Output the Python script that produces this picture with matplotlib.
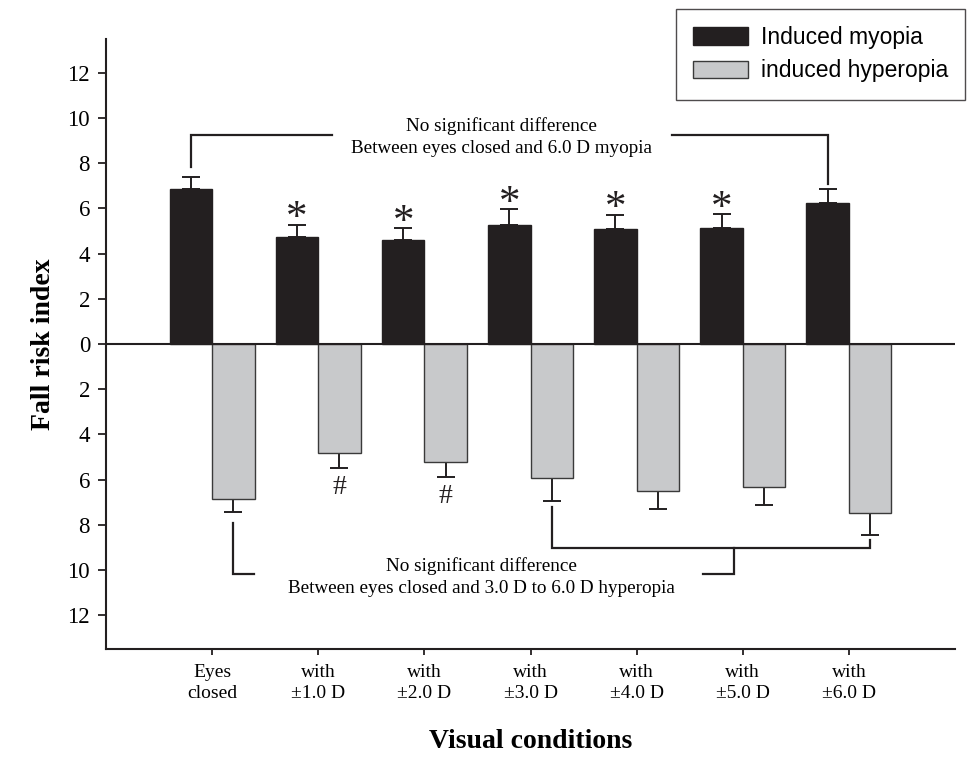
import matplotlib
matplotlib.use("Agg")
import matplotlib.pyplot as plt
from matplotlib.patches import Patch
import numpy as np

# values
conditions = ["Eyes\nclosed", "with\n±1.0 D", "with\n±2.0 D", "with\n±3.0 D",
              "with\n±4.0 D", "with\n±5.0 D", "with\n±6.0 D"]
myopia = [6.87, 4.72, 4.60, 5.27, 5.10, 5.15, 6.25]
myopia_err = [0.53, 0.56, 0.53, 0.70, 0.62, 0.59, 0.62]
hyperopia = [6.87, 4.84, 5.22, 5.91, 6.50, 6.34, 7.49]
hyperopia_err = [0.56, 0.66, 0.65, 1.05, 0.80, 0.77, 0.96]
star_idx = [1, 2, 3, 4, 5]      # myopia differs from eyes closed
hash_idx = [1, 2]               # hyperopia differs from eyes closed

BLACK = "#231f20"
GRAY = "#c8c9cb"
W = 0.4

plt.rcParams["font.family"] = ["Liberation Serif", "DejaVu Serif"]

fig = plt.figure(figsize=(9.71, 7.59), dpi=100)
ax = fig.add_axes([0.1092, 0.1449, 0.8743, 0.8037])

x = np.arange(len(conditions))
my = np.array(myopia)
hy = -np.array(hyperopia)
zeros = np.zeros(len(x))

ax.bar(x - W / 2, my, width=W, color=BLACK, edgecolor=BLACK, linewidth=1, zorder=2)
ax.bar(x + W / 2, hy, width=W, color=GRAY, edgecolor="#3a3a3a", linewidth=1, zorder=2)
ax.errorbar(x - W / 2, my, yerr=[zeros, myopia_err], fmt="none", ecolor=BLACK,
            elinewidth=1.4, capsize=6.3, capthick=1.4, zorder=1)
ax.errorbar(x + W / 2, hy, yerr=[hyperopia_err, zeros], fmt="none", ecolor=BLACK,
            elinewidth=1.4, capsize=6.3, capthick=1.4, zorder=1)
ax.axhline(0, color=BLACK, lw=1.5, zorder=3)

for i in star_idx:
    ax.text(x[i] - W / 2, my[i] + myopia_err[i] - 0.2, "*", ha="center",
            va="baseline", fontsize=31, color=BLACK)
for i in hash_idx:
    ax.text(x[i] + W / 2, hy[i] - hyperopia_err[i] - 1.15, "#", ha="center",
            va="baseline", fontsize=20, color=BLACK)

# brackets
lk = dict(color=BLACK, lw=1.6, solid_joinstyle="miter")
ax.plot([x[0] - W / 2, x[0] - W / 2, 1.13], [7.82, 9.25, 9.25], **lk)
ax.plot([4.33, x[6] - W / 2, x[6] - W / 2], [9.25, 9.25, 7.1], **lk)
ax.text(2.73, 9.65, "No significant difference", ha="center", va="center", fontsize=13.8)
ax.text(2.73, 8.67, "Between eyes closed and 6.0 D myopia", ha="center", va="center", fontsize=13.8)

ax.plot([x[0] + W / 2, x[0] + W / 2, 0.39], [-7.93, -10.19, -10.19], **lk)
ax.plot([x[3] + W / 2, x[3] + W / 2, x[6] + W / 2, x[6] + W / 2],
        [-7.23, -9.01, -9.01, -8.67], **lk)
ax.plot([4.915, 4.915, 4.625], [-9.01, -10.19, -10.19], **lk)
ax.text(2.54, -9.82, "No significant difference", ha="center", va="center", fontsize=13.8)
ax.text(2.54, -10.8, "Between eyes closed and 3.0 D to 6.0 D hyperopia",
        ha="center", va="center", fontsize=13.8)

ax.set_xlim(-1.0, 7.0)
ax.set_ylim(-13.5, 13.5)
yt = np.arange(-12, 13, 2)
ax.set_yticks(yt)
ax.set_yticklabels([str(abs(v)) for v in yt], fontsize=16.5)
ax.set_xticks(x)
ax.set_xticklabels(conditions, fontsize=14, linespacing=1.25)
ax.tick_params(axis="y", length=5.5, width=1.3, pad=6, color=BLACK)
ax.tick_params(axis="x", length=4, width=1.3, pad=7, color=BLACK)

for s in ["top", "right"]:
    ax.spines[s].set_visible(False)
for s in ["left", "bottom"]:
    ax.spines[s].set_linewidth(1.5)
    ax.spines[s].set_color(BLACK)

ax.set_ylabel("Fall risk index", fontsize=20, fontweight="bold", labelpad=8)
ax.set_xlabel("Visual conditions", fontsize=20, fontweight="bold", labelpad=20)

handles = [Patch(facecolor=BLACK, edgecolor=BLACK, label="Induced myopia"),
           Patch(facecolor=GRAY, edgecolor="#3a3a3a", label="induced hyperopia")]
leg = fig.legend(handles=handles, loc="upper left",
                 bbox_to_anchor=(676 / 971, 1 - 9 / 759),
                 prop={"family": "Liberation Sans", "size": 16.5},
                 frameon=True, fancybox=False, borderpad=0.75, labelspacing=0.45,
                 handlelength=2.4, handleheight=0.8, handletextpad=0.55,
                 borderaxespad=0)
leg.get_frame().set_edgecolor(BLACK)
leg.get_frame().set_linewidth(1.0)

fig.savefig("out.png", dpi=100)
